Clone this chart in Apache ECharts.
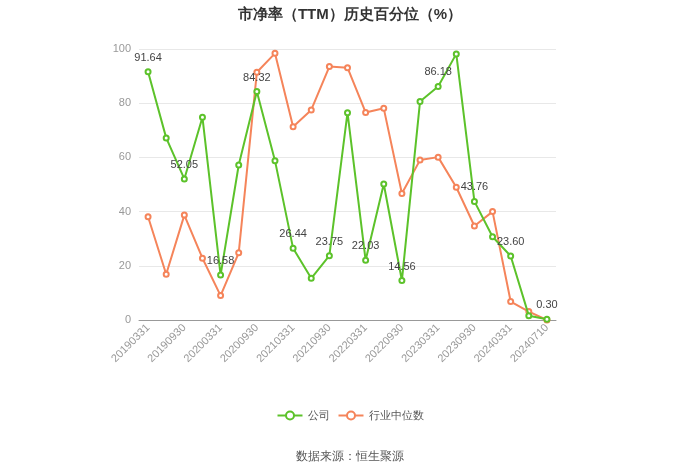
<!DOCTYPE html>
<html>
<head>
<meta charset="utf-8">
<script src="https://cdn.jsdelivr.net/npm/echarts@6/dist/echarts.min.js"></script>
<style>
  html, body { margin: 0; padding: 0; background: #fff; }
  #chart { width: 700px; height: 474px; }
</style>
</head>
<body>
<div id="chart"></div>
<script>
const dates = ['20190331', '20190630', '20190930', '20191231', '20200331', '20200630', '20200930', '20201231',
  '20210331', '20210630', '20210930', '20211231', '20220331', '20220630', '20220930', '20221231',
  '20230331', '20230630', '20230930', '20231231', '20240331', '20240630', '20240710']
// 公司
const companyValues = [91.64, 67.2, 52.05, 74.8, 16.58, 57.2, 84.32, 58.8, 26.44, 15.4, 23.75, 76.5,
  22.03, 50.2, 14.56, 80.6, 86.18, 98.2, 43.76, 30.7, 23.60, 1.6, 0.30]
// 行业中位数
const industryValues = [38.1, 16.9, 38.7, 22.8, 9.0, 24.8, 91.4, 98.4, 71.3, 77.5, 93.5, 93.1,
  76.6, 78.1, 46.7, 59.0, 60.1, 49.0, 34.7, 40.0, 6.8, 3.1, 0]
const yTicks = [0, 20, 40, 60, 80, 100]

const green = '#5cc22a'
const orange = '#f5845a'

let myChart = echarts.init(document.getElementById('chart'))
let option = {
  animation: false,
  title: {
    text: '市净率（TTM）历史百分位（%）',
    left: 'center',
    top: 2,
    textStyle: { fontSize: 15, fontWeight: 'bold', color: '#333' },
  },
  legend: {
    data: ['公司', '行业中位数'],
    bottom: 48,
    left: 'center',
    itemWidth: 25,
    itemHeight: 10,
    textStyle: { fontSize: 11, color: '#555' },
  },
  graphic: [
    {
      type: 'text',
      left: 'center',
      top: 451,
      style: { text: '数据来源：恒生聚源', fontSize: 12, fill: '#555' },
    },
  ],
  grid: { left: 139, right: 144, top: 49, bottom: 154 },
  xAxis: {
    type: 'category',
    boundaryGap: true,
    data: dates,
    axisLine: { lineStyle: { color: '#999' } },
    axisTick: { alignWithLabel: true, interval: 1, lineStyle: { color: '#999' } },
    axisLabel: { interval: 1, rotate: 45, fontSize: 11, color: '#999', margin: 6 },
  },
  yAxis: {
    type: 'value',
    min: yTicks[0],
    max: yTicks[yTicks.length - 1],
    interval: 20,
    axisLine: { show: false },
    axisTick: { show: false },
    axisLabel: { fontSize: 11, color: '#999' },
    splitLine: { lineStyle: { color: '#e8e8e8' } },
  },
  series: [
    {
      name: '公司',
      type: 'line',
      data: companyValues,
      symbol: 'emptyCircle',
      symbolSize: 5,
      color: green,
      lineStyle: { width: 2 },
      z: 3,
      label: {
        show: true,
        position: 'top',
        fontSize: 11,
        color: '#444',
        formatter: (p) => (p.dataIndex % 2 === 0 ? p.value.toFixed(2) : ''),
      },
    },
    {
      name: '行业中位数',
      type: 'line',
      data: industryValues,
      symbol: 'emptyCircle',
      symbolSize: 5,
      color: orange,
      lineStyle: { width: 2 },
      z: 2,
    },
  ],
}
myChart.setOption(option)
</script>
</body>
</html>
